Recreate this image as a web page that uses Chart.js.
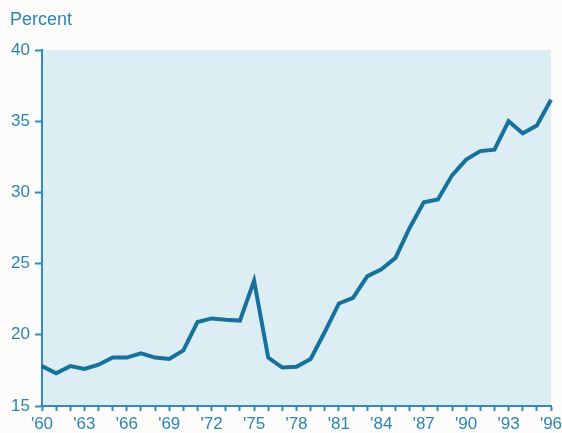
<!DOCTYPE html>
<html>
<head>
<meta charset="utf-8">
<script src="https://cdn.jsdelivr.net/npm/chart.js@4/dist/chart.umd.min.js"></script>
<style>
  html, body { margin: 0; padding: 0; background: #fdfcfb; }
  #wrap { width: 562px; height: 433px; position: relative; }
</style>
</head>
<body>
<div id="wrap"><canvas id="c" width="562" height="433"></canvas></div>
<script>
const years = [1960,1961,1962,1963,1964,1965,1966,1967,1968,1969,1970,1971,1972,1973,1974,1975,1976,1977,1978,1979,1980,1981,1982,1983,1984,1985,1986,1987,1988,1989,1990,1991,1992,1993,1994,1995,1996];
const percent = [17.8,17.3,17.8,17.6,17.9,18.4,18.4,18.7,18.4,18.3,18.9,20.9,21.15,21.05,21.0,23.8,18.4,17.7,17.75,18.3,20.2,22.2,22.6,24.1,24.6,25.4,27.5,29.3,29.5,31.2,32.3,32.9,33.0,35.0,34.15,34.7,36.5];
const yTicks = [15,20,25,30,35,40];
const xTickYears = [1960,1963,1966,1969,1972,1975,1978,1981,1984,1987,1990,1993,1996];
const yTitle = "Percent";

const textColor = '#2a85b4';
const axisColor = '#2f8cc0';
const fontFam = "'Liberation Sans', Arial, sans-serif";

const bgPlugin = {
  id: 'bg',
  beforeDraw(chart) {
    const {ctx, chartArea: a} = chart;
    ctx.save();
    ctx.fillStyle = '#fdfcfb';
    ctx.fillRect(0, 0, chart.width, chart.height);
    ctx.fillStyle = '#dcedf3';
    ctx.fillRect(a.left, a.top, a.right - a.left, a.bottom - a.top);
    ctx.restore();
  },
  afterDraw(chart) {
    const {ctx} = chart;
    ctx.save();
    ctx.fillStyle = textColor;
    ctx.font = "18px " + fontFam;
    ctx.textBaseline = 'alphabetic';
    ctx.textAlign = 'left';
    ctx.fillText(yTitle, 10, 25);
    ctx.restore();
  }
};

new Chart(document.getElementById('c'), {
  type: 'line',
  data: {
    labels: years.map(String),
    datasets: [{
      data: percent,
      borderColor: '#16729c',
      borderWidth: 4,
      pointRadius: 0,
      tension: 0,
      fill: false,
      borderJoinStyle: 'miter'
    }]
  },
  options: {
    responsive: false,
    animation: false,
    devicePixelRatio: 1,
    layout: { padding: { top: 50, right: 11, left: 0, bottom: 0 } },
    plugins: { legend: { display: false }, tooltip: { enabled: false }, title: { display: false } },
    scales: {
      x: {
        type: 'category',
        offset: false,
        border: { display: true, color: axisColor, width: 2 },
        grid: {
          display: true, drawOnChartArea: false, drawTicks: true, tickLength: 5, tickWidth: 2,
          color: axisColor
        },
        ticks: {
          autoSkip: false,
          maxRotation: 0,
          padding: 3,
          color: textColor,
          font: { family: fontFam, size: 17 },
          callback: function(v, i) {
            const y = years[i];
            return xTickYears.includes(y) ? "'" + String(y).slice(2) : '';
          }
        },
        afterFit(scale) { scale.height = 27; scale.paddingRight = 0; scale.paddingLeft = 0; }
      },
      y: {
        min: 15, max: 40,
        border: { display: true, color: axisColor, width: 2 },
        grid: { display: true, drawOnChartArea: false, drawTicks: true, tickLength: 7, color: axisColor, tickWidth: 2 },
        afterBuildTicks(scale) { scale.ticks = yTicks.map(v => ({ value: v })); },
        ticks: {
          padding: 5,
          color: textColor,
          font: { family: fontFam, size: 17 }
        },
        afterFit(scale) { scale.width = 42; }
      }
    }
  },
  plugins: [bgPlugin]
});
</script>
</body>
</html>
